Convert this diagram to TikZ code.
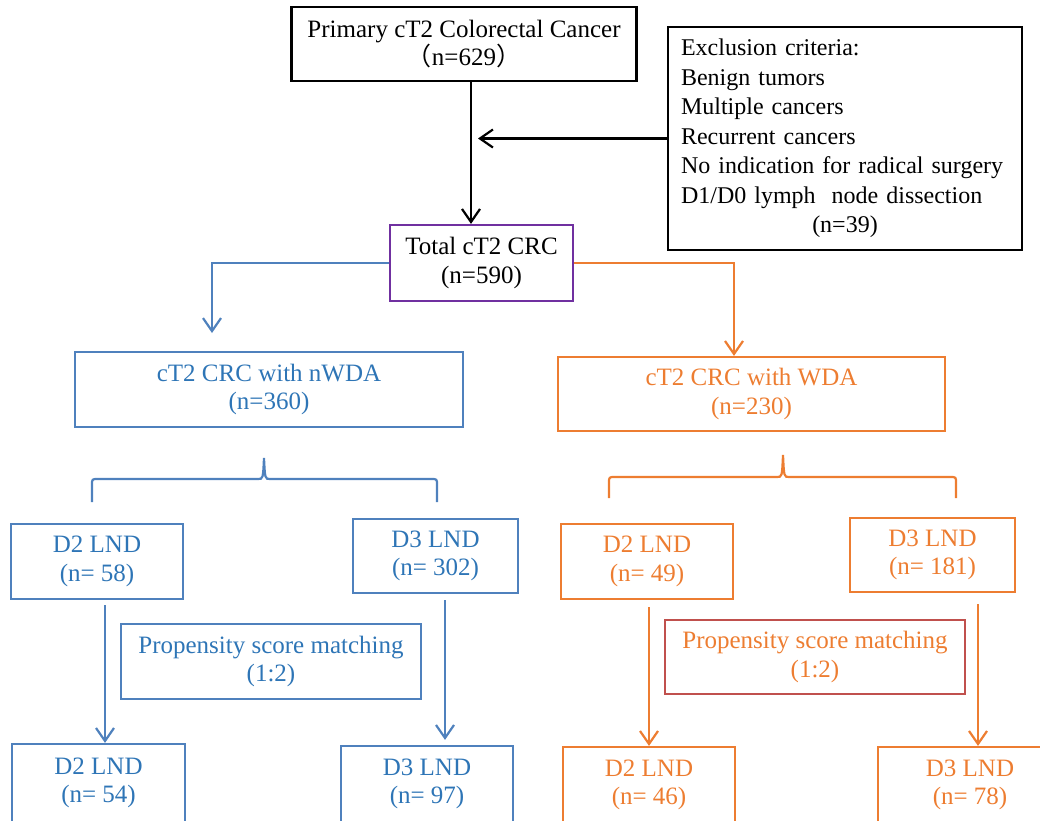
\documentclass[tikz,border=0pt]{standalone}
\usepackage{fontspec}
\setmainfont{Liberation Serif}
\newfontfamily\cjk{Noto Sans CJK SC}
\usetikzlibrary{arrows.meta}

\definecolor{crcBlue}{RGB}{79,129,189}
\definecolor{crcBlueText}{RGB}{46,117,182}
\definecolor{crcOrange}{RGB}{237,125,49}
\definecolor{crcPurple}{RGB}{112,48,160}
\definecolor{crcRed}{RGB}{192,80,77}

\begin{document}
\begin{tikzpicture}[x=1pt, y=-1pt, font=\fontsize{25}{28.5}\selectfont ,
box/.style={rectangle, draw, line width=2.2pt, align=center, inner sep=0pt} ,
blackBox/.style={box, draw=black} ,
blueBox/.style={box, draw=crcBlue, text=crcBlueText} ,
orangeBox/.style={box, draw=crcOrange, text=crcOrange} ,
arr/.style={line width=2.2pt, -{Straight Barb[length=13pt, width=18pt]}} ,
blackArrow/.style={arr, draw=black} ,
blueArrow/.style={arr, draw=crcBlue} ,
orangeArrow/.style={arr, draw=crcOrange} ,
braceLine/.style={line width=2.2pt}
]
\useasboundingbox (0,0) rectangle (1040,820) ;
\clip (0,0) rectangle (1040,820) ;

\node (primary) at (464,44) [blackBox, minimum width=345, minimum height=74] {Primary cT2 Colorectal Cancer\\ {\cjk （}n=629{\cjk ）}} ;
\node (excl) at (845,138.5) [blackBox, minimum width=354, minimum height=223, text width=328, align=left, font=\fontsize{24}{29.5}\selectfont] {Exclusion criteria:\\ Benign tumors\\ Multiple cancers\\ Recurrent cancers\\ No indication for radical surgery\\ D1/D0 lymph\ \ node dissection\\ \makebox[\linewidth][c]{(n=39)}} ;
\node (total) at (481.5,263) [box, draw=crcPurple, minimum width=183, minimum height=76] {Total cT2 CRC\\ (n=590)} ;

\node (nwda) at (269,389.5) [blueBox, minimum width=388, minimum height=75] {cT2 CRC with nWDA\\ (n=360)} ;
\node (wda) at (751.5,394) [orangeBox, minimum width=387, minimum height=74] {cT2 CRC with WDA\\ (n=230)} ;

\node (nwdaD2) at (97,561.5) [blueBox, minimum width=172, minimum height=75] {D2 LND\\ (n= 58)} ;
\node (nwdaD3) at (435.5,556) [blueBox, minimum width=165, minimum height=74] {D3 LND\\ (n= 302)} ;
\node (nwdaPsm) at (271,661.5) [blueBox, minimum width=300, minimum height=75] {Propensity score matching\\ (1:2)} ;
\node (nwdaD2m) at (98.5,783) [blueBox, minimum width=173, minimum height=78] {D2 LND\\ (n= 54)} ;
\node (nwdaD3m) at (427,784) [blueBox, minimum width=172, minimum height=76] {D3 LND\\ (n= 97)} ;

\node (wdaD2) at (647,561.5) [orangeBox, minimum width=172, minimum height=75] {D2 LND\\ (n= 49)} ;
\node (wdaD3) at (932.5,555) [orangeBox, minimum width=165, minimum height=74] {D3 LND\\ (n= 181)} ;
\node (wdaPsm) at (815,657) [orangeBox, draw=crcRed, minimum width=300, minimum height=74] {Propensity score matching\\ (1:2)} ;
\node (wdaD2m) at (649,785) [orangeBox, minimum width=172, minimum height=76] {D2 LND\\ (n= 46)} ;
\node (wdaD3m) at (970,785) [orangeBox, minimum width=184, minimum height=76] {D3 LND\\ (n= 78)} ;

% top part
\coordinate (exclTip) at (478,138.5) ;
\coordinate (nwdaTip) at (212,333) ;
\draw [blackArrow] ([xshift=7pt]primary.south) -- ([xshift=7pt]primary.south |- total.north) ;
\draw [blackArrow] (excl.west) -- (exclTip) ;
\draw [blueArrow] (total.west) -| (nwdaTip) ;
\draw [orangeArrow] (total.east) -| ([xshift=-17.5pt]wda.north) ;

% braces
\draw [braceLine, crcBlue] (92,502) -- (92,485) .. controls (92,479) .. (98,479) -- (258,479) .. controls (263,479) .. (264,458) .. controls (265,479) .. (270,479) -- (431,479) .. controls (437,479) .. (437,485) -- (437,502) ;
\draw [braceLine, crcOrange] (609,498) -- (609,483) .. controls (609,477) .. (615,477) -- (777,477) .. controls (782,477) .. (783,455) .. controls (784,477) .. (789,477) -- (950,477) .. controls (956,477) .. (956,483) -- (956,498) ;

% matching arrows
\draw [blueArrow] ([xshift=8pt, yshift=-5pt]nwdaD2.south) -- ([xshift=6.5pt]nwdaD2m.north) ;
\draw [blueArrow] ([xshift=9.5pt, yshift=-6pt]nwdaD3.south) -- ([xshift=18pt, yshift=5pt]nwdaD3m.north) ;
\draw [orangeArrow] ([xshift=2pt, yshift=-7pt]wdaD2.south) -- ([xshift=0pt]wdaD2m.north) ;
\draw [orangeArrow] ([xshift=45.5pt, yshift=-11pt]wdaD3.south) -- ([xshift=8pt]wdaD3m.north) ;
\end{tikzpicture}
\end{document}
